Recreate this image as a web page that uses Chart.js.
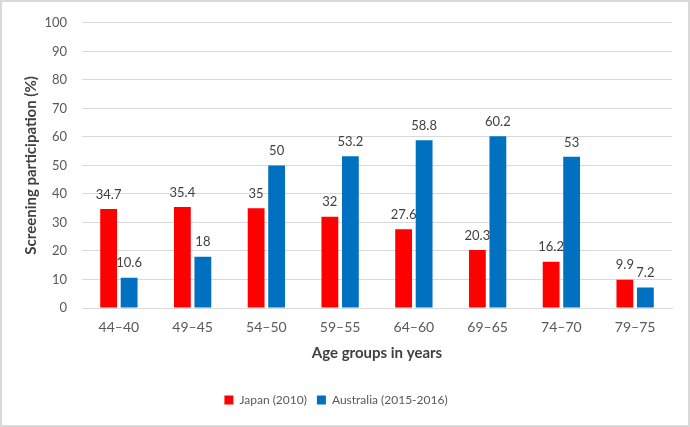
<!DOCTYPE html>
<html>
<head>
<meta charset="utf-8">
<script src="https://cdn.jsdelivr.net/npm/chart.js@4"></script>
<style>
  html, body { margin: 0; padding: 0; background: #fff; }
  #wrap { width: 690px; height: 427px; position: relative; }
</style>
</head>
<body>
<div id="wrap"><canvas id="chart" width="690" height="427"></canvas></div>
<script>
  // Age groups (as printed on the chart)
  const ageGroups = ['44–40', '49–45', '54–50', '59–55', '64–60', '69–65', '74–70', '79–75'];
  // Screening participation (%)
  const japan2010 = [34.7, 35.4, 35, 32, 27.6, 20.3, 16.2, 9.9];
  const australia2015 = [10.6, 18, 50, 53.2, 58.8, 60.2, 53, 7.2];
  const yTicks = [0, 10, 20, 30, 40, 50, 60, 70, 80, 90, 100];

  const fontFamily = 'Lato, "Open Sans", sans-serif';

  // white background + thin grey frame like the original picture
  const frame = {
    id: 'frame',
    beforeDraw(chart) {
      const ctx = chart.ctx;
      ctx.save();
      ctx.fillStyle = '#fff';
      ctx.fillRect(0, 0, chart.width, chart.height);
      ctx.strokeStyle = '#d9d9d9';
      ctx.lineWidth = 2;
      ctx.strokeRect(1, 1, chart.width - 2, chart.height - 2);
      ctx.restore();
    }
  };

  // value labels above each bar
  const valueLabels = {
    id: 'valueLabels',
    afterDatasetsDraw(chart) {
      const ctx = chart.ctx;
      ctx.save();
      ctx.font = '13px ' + fontFamily;
      ctx.fillStyle = '#404040';
      ctx.textAlign = 'center';
      ctx.textBaseline = 'bottom';
      chart.data.datasets.forEach((ds, i) => {
        chart.getDatasetMeta(i).data.forEach((bar, j) => {
          ctx.fillText(String(ds.data[j]), bar.x, bar.y - 8);
        });
      });
      ctx.restore();
    }
  };

  new Chart(document.getElementById('chart').getContext('2d'), {
    type: 'bar',
    data: {
      labels: ageGroups,
      datasets: [{
        label: 'Japan (2010)',
        data: japan2010,
        backgroundColor: '#ff0000',
        categoryPercentage: 0.556,
        barPercentage: 0.82
      }, {
        label: 'Australia (2015-2016)',
        data: australia2015,
        backgroundColor: '#0070c0',
        categoryPercentage: 0.556,
        barPercentage: 0.82
      }]
    },
    options: {
      responsive: false,
      animation: false,
      layout: { padding: { top: 19, right: 18, bottom: 11, left: 0 } },
      plugins: {
        tooltip: { enabled: false },
        legend: {
          position: 'bottom',
          labels: {
            boxWidth: 9,
            boxHeight: 9,
            padding: 10,
            color: '#595959',
            font: { family: fontFamily, size: 12 }
          }
        }
      },
      scales: {
        x: {
          grid: { display: false, drawTicks: false },
          border: { display: true, color: '#d9d9d9', width: 1 },
          ticks: { color: '#595959', padding: 11, font: { family: fontFamily, size: 14 } },
          title: {
            display: true,
            text: 'Age groups in years',
            color: '#404040',
            padding: { top: 0, bottom: 22 },
            font: { family: fontFamily, size: 15, weight: 'bold' }
          },
          afterFit(scale) { scale.height = 76; }
        },
        y: {
          min: 0,
          max: 100,
          afterBuildTicks(scale) { scale.ticks = yTicks.map(v => ({ value: v })); },
          grid: { color: '#d9d9d9', lineWidth: 1, drawTicks: false },
          border: { display: false },
          ticks: { color: '#595959', padding: 15, font: { family: fontFamily, size: 13 } },
          title: {
            display: true,
            text: 'Screening participation (%)',
            color: '#404040',
            padding: { top: 22, bottom: 0 },
            font: { family: fontFamily, size: 15, weight: 'bold' }
          },
          afterFit(scale) { scale.width = 82; }
        }
      }
    },
    plugins: [frame, valueLabels]
  });
</script>
</body>
</html>
